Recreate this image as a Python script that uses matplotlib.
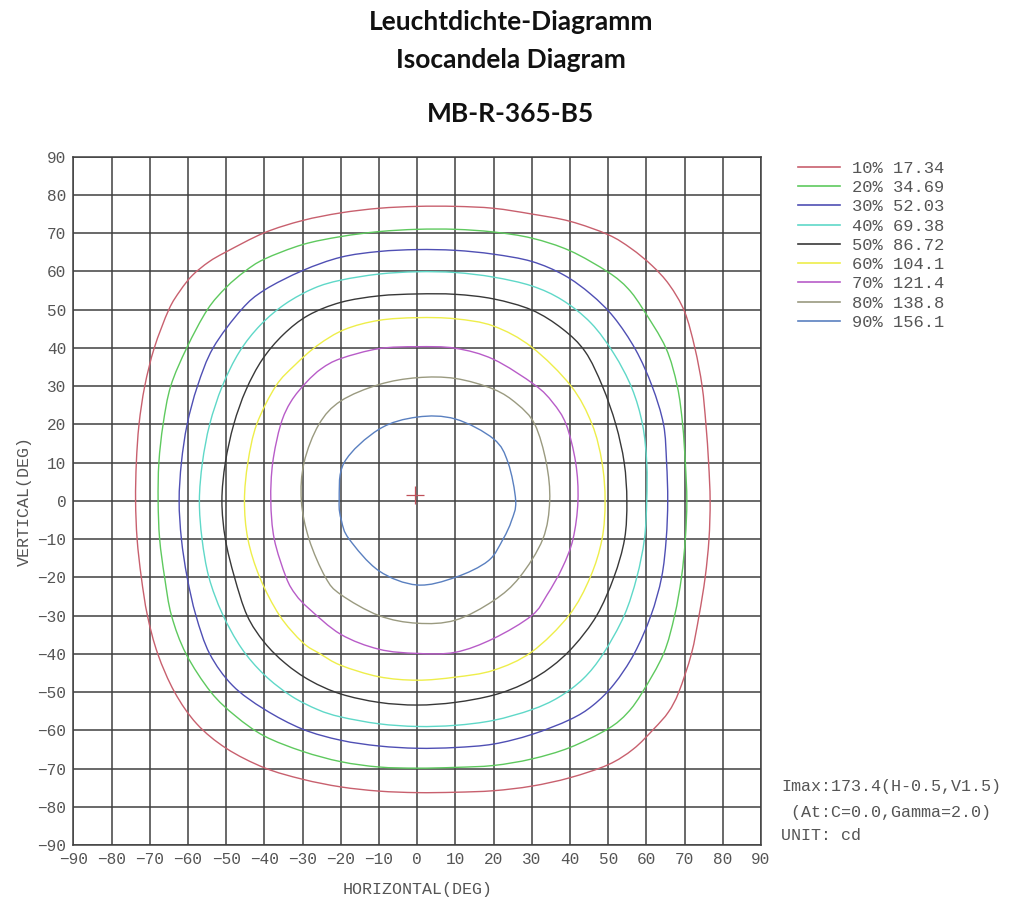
import matplotlib
matplotlib.use("Agg")
import matplotlib.pyplot as plt
from matplotlib.path import Path
from matplotlib.patches import PathPatch
from matplotlib.lines import Line2D
import numpy as np

# isocandela contours, (horizontal deg, vertical deg),
# going round from the top, anticlockwise
iso_10 = [(0, 77.0), (-10, 76.5), (-20, 75.3), (-30, 73.3), (-40, 70.1), (-50, 65.1), (-54.5, 62.5),
          (-58.8, 59), (-62, 55), (-65, 50), (-68.8, 40), (-71.3, 30), (-72.8, 20), (-73.5, 10),
          (-73.7, 0),
          (-73.3, -10), (-72.2, -20), (-70.6, -30), (-67.9, -40), (-63.5, -50), (-57.7, -58.3),
          (-50, -64.7), (-40, -69.8), (-30, -72.8), (-20, -74.8), (-10, -75.9), (0, -76.3),
          (10, -76.2), (20, -75.8), (30, -74.6), (40, -72.4), (50, -69.0), (56.6, -64.9),
          (62, -59.6), (65.8, -55.2), (68.5, -50), (71.8, -40), (73.8, -30), (75.4, -20),
          (76.4, -10), (76.7, 0),
          (76.3, 10), (75.6, 20), (74.6, 30), (72.7, 40), (70, 49.5), (66, 56.5), (61.5, 61.5),
          (56, 66), (50, 69.6), (40, 73.1), (30, 75.0), (20, 76.5), (10, 77.0)]
iso_20 = [(0, 71.0), (-10, 70.4), (-20, 69.1), (-30, 67.0), (-40, 63.2), (-45.1, 60), (-50, 55.8),
          (-54.9, 50), (-60.3, 40), (-64.5, 30), (-66.5, 20), (-67.6, 10), (-67.8, 0),
          (-67.4, -10), (-66.1, -20), (-64.3, -30), (-60.5, -40), (-54, -50), (-47.5, -56.3),
          (-40, -61.5), (-30, -65.5), (-20, -68.2), (-10, -69.6), (0, -69.9),
          (10, -69.7), (20, -69.2), (30, -67.5), (40, -64.5), (50, -59.6), (55.1, -55.4),
          (59, -50), (64.5, -40), (67.4, -30), (69.2, -20), (70.2, -10), (70.6, 0),
          (70.2, 10), (69.5, 20), (68.1, 30), (65.1, 40), (59.2, 50), (55.2, 55.5), (50, 59.8),
          (40, 65.4), (30, 68.7), (20, 70.3), (10, 71.0)]
iso_30 = [(0, 65.7), (-10, 65.2), (-20, 63.7), (-30, 60.2), (-40, 55.1), (-46, 50), (-53.4, 40),
          (-57.5, 30), (-60.2, 20), (-61.7, 10), (-62.3, 0),
          (-61.7, -10), (-60.2, -20), (-57.9, -30), (-54.3, -40), (-48.3, -48.3), (-40, -54.5),
          (-30, -59.7), (-20, -62.6), (-10, -64.1), (0, -64.7),
          (10, -64.5), (20, -63.6), (30, -61.1), (40, -57.2), (46, -53.5), (51.5, -48),
          (56.8, -40), (61.2, -30), (64, -20), (65.2, -10), (65.6, 0),
          (65.3, 10), (64.5, 20), (61.5, 30), (57.2, 39.5), (51.5, 48), (45.5, 54), (38.5, 59),
          (30, 62.6), (20, 64.5), (10, 65.5)]
iso_40 = [(0, 59.9), (-10, 59.3), (-20, 57.7), (-27, 55.6), (-34.5, 51.5), (-41, 46), (-46.5, 39),
          (-51, 30), (-54.3, 20), (-56.2, 10), (-57.0, 0),
          (-56.3, -10), (-54.5, -20), (-51, -29.5), (-46, -38.5), (-40, -45.5), (-33, -51),
          (-26, -54.6), (-20, -56.5), (-10, -58.3), (0, -59.0),
          (10, -58.7), (20, -57.4), (30, -54.6), (37, -51.4), (43.5, -46.5), (48.7, -40),
          (54.2, -30), (57.5, -20), (59.5, -10), (60.1, 0),
          (60.1, 10), (59, 20), (56.2, 29.5), (51.5, 38.5), (45.5, 46.5), (38, 52.5), (30, 56.2),
          (20, 58.5), (10, 59.7)]
iso_50 = [(0, 54.1), (-10, 53.6), (-20, 51.9), (-28.5, 48.5), (-35, 43.5), (-40.5, 37), (-44.8, 29),
          (-48, 20), (-50.2, 10), (-51.1, 0),
          (-50.2, -10), (-47.8, -20), (-44.5, -30), (-40, -37), (-34.5, -42.5), (-28, -47),
          (-20, -50.5), (-10, -52.7), (0, -53.4),
          (10, -52.7), (20, -50.8), (28, -47.8), (35, -43.5), (41, -38), (47, -30), (51.5, -20),
          (54.3, -10), (54.9, 0),
          (54.2, 10), (52, 20), (48.5, 30), (44, 39), (38, 45), (30, 49.9), (20, 52.8), (10, 54.0)]
iso_60 = [(0, 47.9), (-10, 47.2), (-19, 44.8), (-26, 40.7), (-32, 35.5), (-37, 30), (-42, 20),
          (-44.3, 10), (-45.2, 0),
          (-44.3, -10), (-41.2, -20), (-36, -30), (-30, -37), (-25.4, -40), (-20, -43),
          (-10, -46), (0, -46.9),
          (10, -46.1), (20, -44.3), (30, -39.5), (39.7, -30), (45.3, -20), (48.4, -10),
          (49.2, 0),
          (48.4, 10), (45.8, 20), (40.3, 30), (30, 40.2), (20, 45.7), (10, 47.6)]
iso_70 = [(0, 40.3), (-10, 39.8), (-20, 37.2), (-25, 34.6), (-29, 31), (-33, 26), (-35.7, 20),
          (-37.8, 10), (-38.3, 0),
          (-37.4, -10), (-34.3, -20), (-31.8, -24.5), (-28.3, -28.2), (-20, -34.9), (-10, -38.8),
          (0, -39.9),
          (10, -39.6), (20, -36), (30, -30), (34, -24.6), (38, -17.5), (40.8, -10), (42.1, 0),
          (41.5, 10), (39, 20), (35.5, 25.7), (30.8, 30.3), (20, 37), (10, 39.9)]
iso_80 = [(0, 32.2), (-10, 30.4), (-20, 26.1), (-25.7, 20), (-29.6, 10), (-30.3, 0),
          (-28.3, -10), (-24, -20), (-20, -24.5), (-10, -30), (0, -32),
          (10, -31.2), (20, -26.1), (26.8, -20), (32.9, -10), (34.7, 0),
          (33.8, 10), (30.8, 20), (26.2, 25.3), (20, 29.2), (10, 32.0)]
iso_90 = [(0, 21.9), (-10, 18.7), (-19.1, 10), (-20.4, 0), (-19.8, -5.2), (-17.8, -10),
          (-10, -18.3), (0, -22.0), (10, -20), (18.6, -15.7), (22.5, -10), (24.7, -5.2),
          (25.8, 0), (23.8, 10), (20, 16.2), (10, 21.4)]

contours = [iso_10, iso_20, iso_30, iso_40, iso_50, iso_60, iso_70, iso_80, iso_90]
legend_labels = ["10% 17.34", "20% 34.69", "30% 52.03", "40% 69.38", "50% 86.72",
                 "60% 104.1", "70% 121.4", "80% 138.8", "90% 156.1"]
colors = ["#c8606e", "#5ec95e", "#4f4fb4", "#5fd8c8", "#383838",
          "#eeee4a", "#b85cc8", "#9a9a80", "#5a80c0"]

imax_h, imax_v = -0.5, 1.5
ticks = list(range(-90, 91, 10))

mono = "Liberation Mono"
gray = "#555555"
gridc = "#404040"


def closed_curve(points):
    # smooth closed curve through the read points (Catmull-Rom as cubic bezier)
    p = np.array(points, dtype=float)
    n = len(p)
    verts = [p[0]]
    codes = [Path.MOVETO]
    for i in range(n):
        p0, p1, p2, p3 = p[i - 1], p[i], p[(i + 1) % n], p[(i + 2) % n]
        verts += [p1 + (p2 - p0) / 6.0, p2 - (p3 - p1) / 6.0, p2]
        codes += [Path.CURVE4] * 3
    return Path(verts, codes)


fig = plt.figure(figsize=(10.24, 9.21), dpi=100)
ax = fig.add_axes([0.0716, 0.0825, 0.6715, 0.7474])

for pts, c in zip(contours, colors):
    ax.add_patch(PathPatch(closed_curve(pts), facecolor="none", edgecolor=c, lw=1.0, zorder=3))

ax.plot([imax_h], [imax_v], marker="+", color="#c0505a", ms=13, mew=0.9, zorder=4)

ax.set_xlim(-90, 90)
ax.set_ylim(-90, 90)
ax.set_xticks(ticks)
ax.set_yticks(ticks)
ax.grid(True, color=gridc, lw=1.1)
ax.set_axisbelow(True)
for s in ax.spines.values():
    s.set_color(gridc)
    s.set_linewidth(1.1)
ax.tick_params(length=0, pad=5, labelsize=11.6, labelcolor=gray)
for lab in ax.get_xticklabels() + ax.get_yticklabels():
    lab.set_family(mono)

ax.set_xlabel("HORIZONTAL(DEG)", family=mono, fontsize=12, color=gray, labelpad=11)
ax.set_ylabel("VERTICAL(DEG)", family=mono, fontsize=12, color=gray, labelpad=4)

handles = [Line2D([], [], color=c, lw=1.2) for c in colors]
ax.legend(handles, legend_labels, loc="upper left", bbox_to_anchor=(1.044, 1.004),
          frameon=False, prop={"family": mono, "size": 12.3}, handlelength=2.45,
          handletextpad=0.7, labelspacing=0.25, labelcolor=gray, borderaxespad=0)

fig.text(0.7627, 0.1455, "Imax:173.4(H-0.5,V1.5)", family=mono, fontsize=12.1,
         color=gray, va="center")
fig.text(0.7627, 0.1183, " (At:C=0.0,Gamma=2.0)", family=mono, fontsize=12.1,
         color=gray, va="center")
fig.text(0.7627, 0.0923, "UNIT: cd", family=mono, fontsize=12.1, color=gray, va="center")

fig.text(0.499, 0.976, "Leuchtdichte-Diagramm", family="Lato", weight="bold",
         fontsize=19, ha="center", va="center", color="#111111")
fig.text(0.499, 0.935, "Isocandela Diagram", family="Lato", weight="bold",
         fontsize=19, ha="center", va="center", color="#111111")
fig.text(0.499, 0.876, "MB-R-365-B5", family="Lato", weight="bold",
         fontsize=19, ha="center", va="center", color="#111111")

fig.savefig("out.png", dpi=100)
